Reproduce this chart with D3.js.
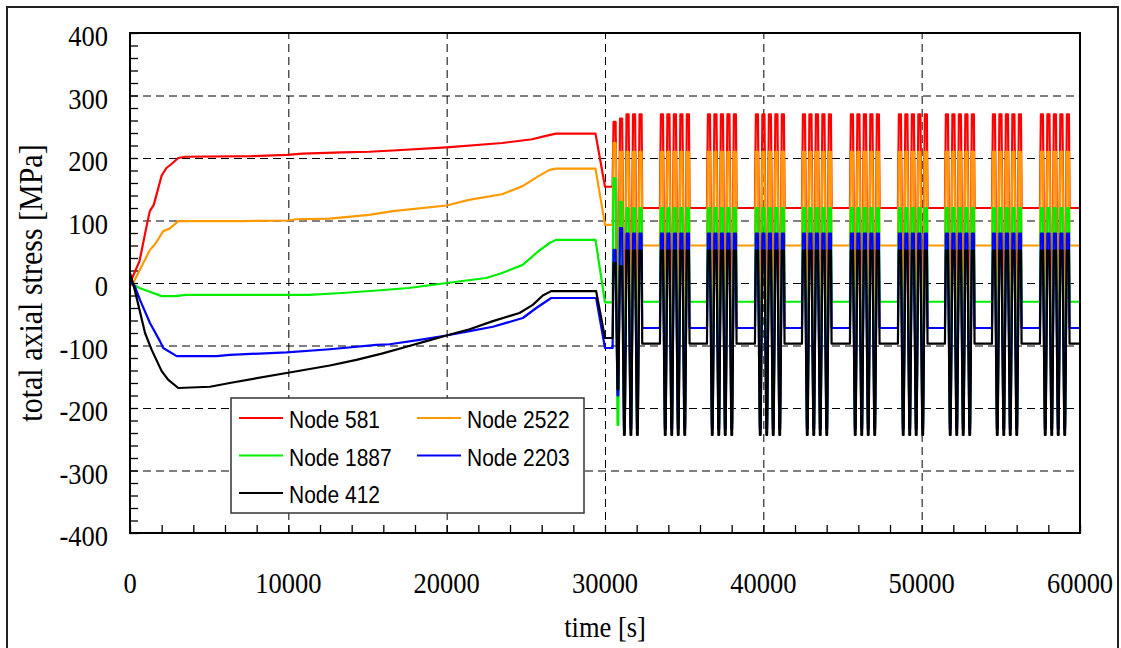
<!DOCTYPE html>
<html>
<head>
<meta charset="utf-8">
<script src="https://cdn.jsdelivr.net/npm/d3@7"></script>
<style>
  body { margin: 0; background: #fff; }
  svg { display: block; }
</style>
</head>
<body>
<div class="stress_graph"></div>
<script>
// total axial stress of five nodes over time

var nodeNames = ["Node 581", "Node 2522", "Node 1887", "Node 2203", "Node 412"];
var nodeColors = ["#ff0000", "#ff9900", "#00ee00", "#0000ff", "#000000"];

// first half: slow ramps [time s, stress MPa]
var ramp581 = [[0,0],[600,35],[1000,85],[1250,115],[1500,125],[2000,172],[2300,184],[2600,190],[3050,200],[3500,202],
  [7700,203],[9900,205],[10900,207],[13400,209],[15100,210],[16600,212],[20000,217],[23500,224],[25400,230],
  [26200,235],[26900,239],[29400,239],[30000,154]];
var ramp2522 = [[0,-5],[200,0],[700,25],[1260,53],[1580,62],[2100,83],[2500,87],[3050,99],[7100,99],[10000,100],
  [10500,102],[12600,103],[15100,109],[16600,115],[20000,124],[21400,133],[23500,142],[24800,155],[25800,171],
  [26500,181],[26900,183],[29400,183],[30000,93]];
var ramp1887 = [[0,0],[600,-8],[2000,-21],[2900,-21],[3500,-19],[11300,-19],[13400,-16],[15600,-12],[17600,-8],
  [20000,0],[22500,8],[23500,16],[24800,29],[25800,51],[26500,64],[26900,69],[29400,69],[30000,-31]];
var ramp2203 = [[0,2],[300,-5],[630,-27],[1260,-64],[1890,-93],[2100,-104],[2950,-117],[5470,-117],[6300,-115],
  [9890,-111],[12620,-106],[15560,-99],[16400,-98],[18290,-91],[19980,-84],[21450,-77],[22920,-70],[24810,-56],
  [25660,-40],[26600,-24],[29440,-24],[30000,-104]];
var ramp412 = [[0,16],[300,-11],[950,-80],[1370,-107],[2000,-141],[2420,-155],[3050,-168],[5050,-166],[6300,-160],
  [9890,-144],[12620,-132],[14300,-123],[15900,-113],[17460,-102],[18720,-93],[19980,-84],
  [21450,-74],[22920,-61],[24600,-48],[25440,-35],[26070,-20],[26600,-13],[29440,-13],[30000,-88]];
var ramps = [ramp581, ramp2522, ramp1887, ramp2203, ramp412];

// second half: load cycles, one group of five spikes every ~3000 s
var groupStarts = [30480, 33470, 36440, 39470, 42440, 45470, 48500, 51470, 54440, 57470];
var spikeOffsets = [60, 470, 880, 1290, 1700];
var groupEnd = 1870;
var cycleBase   = [120, 60, -30, -72, -97];
var cycleTop    = [270, 210, 120, 79, 52];
var cycleBottom = [-90, -140, -225, -233, -243];
// the first group starts a bit uneven
var firstGroupTops = [[258, 224, 168, 53, 32], [263, 210, 130, 88, 27]];
var firstGroupBottom = [-60, -110, -227, -180, -170];

var xMajor = [0, 10000, 20000, 30000, 40000, 50000, 60000];
var yMajor = [-400, -300, -200, -100, 0, 100, 200, 300, 400];

function buildSeries(i) {
  var pts = ramps[i].slice();
  var pre = ramps[i][ramps[i].length - 1][1];
  groupStarts.forEach(function(g, gi) {
    pts.push([g, gi === 0 ? pre : cycleBase[i]]);
    spikeOffsets.forEach(function(o, si) {
      var top = cycleTop[i], bot = cycleBottom[i];
      if (gi === 0 && si < firstGroupTops.length) top = firstGroupTops[si][i];
      if (gi === 0 && si === 0) bot = firstGroupBottom[i];
      pts.push([g + o, top], [g + o + 130, top]);
      if (si < spikeOffsets.length - 1) pts.push([g + o + 250, bot], [g + o + 300, bot]);
    });
    pts.push([g + groupEnd, cycleBase[i]]);
  });
  pts.push([60000, cycleBase[i]]);
  return pts;
}

var W = 1121, H = 648;
var margin = {top: 33, left: 130, right: 41, bottom: 115};
var width = W - margin.left - margin.right,
    height = H - margin.top - margin.bottom;

var svg = d3.select(".stress_graph").append("svg")
  .attr("width", W).attr("height", H);

// outer frame
svg.append("rect").attr("x", 7).attr("y", 7).attr("width", 1111).attr("height", 700)
  .attr("fill", "none").attr("stroke", "#222").attr("stroke-width", 2);

var g = svg.append("g").attr("transform", "translate(" + margin.left + "," + margin.top + ")");

var x = d3.scaleLinear().domain([0, 60000]).range([0, width]);
var y = d3.scaleLinear().domain([-400, 400]).range([height, 0]);

// dashed grid
g.append("g").attr("class", "grid")
  .call(d3.axisLeft(y).tickValues(yMajor).tickSize(-width).tickFormat(""))
  .call(function(s) { s.select(".domain").remove(); });
g.append("g").attr("class", "grid")
  .attr("transform", "translate(0," + height + ")")
  .call(d3.axisBottom(x).tickValues(xMajor).tickSize(-height).tickFormat(""))
  .call(function(s) { s.select(".domain").remove(); });
g.selectAll(".grid line").attr("stroke", "#000").attr("stroke-width", 1).attr("stroke-dasharray", "8,5");

// minor ticks inside
g.append("g").attr("class", "minor")
  .call(d3.axisLeft(y).tickValues(d3.range(-400, 401, 20)).tickSize(-8).tickFormat(""))
  .call(function(s) { s.select(".domain").remove(); });
g.append("g").attr("class", "minor")
  .attr("transform", "translate(0," + height + ")")
  .call(d3.axisBottom(x).tickValues(d3.range(0, 60001, 2000)).tickSize(-8).tickFormat(""))
  .call(function(s) { s.select(".domain").remove(); });
g.selectAll(".minor line").attr("stroke", "#000").attr("stroke-width", 1.3);

// data lines
var line = d3.line()
  .x(function(d) { return x(d[0]); })
  .y(function(d) { return y(d[1]); });

nodeNames.forEach(function(name, i) {
  g.append("path").datum(buildSeries(i))
    .attr("fill", "none")
    .attr("stroke", nodeColors[i])
    .attr("stroke-width", 2.2)
    .attr("stroke-linejoin", "round")
    .attr("d", line);
});

// plot border
g.append("rect").attr("width", width).attr("height", height)
  .attr("fill", "none").attr("stroke", "#000").attr("stroke-width", 2);

// tick labels
var serif = "'Liberation Serif', 'Times New Roman', serif";
g.selectAll(".ylab").data(yMajor).join("text")
  .attr("class", "ylab")
  .attr("transform", function(d) { return "translate(-22," + (y(d) + 13) + ") scale(1,1.13)"; })
  .attr("text-anchor", "end")
  .style("font-family", serif).style("font-size", "26.5px")
  .text(function(d) { return d; });
g.selectAll(".xlab").data(xMajor).join("text")
  .attr("class", "xlab")
  .attr("transform", function(d) { return "translate(" + x(d) + "," + (height + 60) + ") scale(1,1.13)"; })
  .attr("text-anchor", "middle")
  .style("font-family", serif).style("font-size", "26.5px")
  .text(function(d) { return d; });

// axis titles
svg.append("text")
  .attr("transform", "translate(" + (margin.left + width / 2) + ",637) scale(1,1.13)")
  .attr("text-anchor", "middle")
  .style("font-family", serif).style("font-size", "26.5px")
  .text("time [s]");
svg.append("text")
  .attr("transform", "translate(42," + (margin.top + height / 2) + ") rotate(-90) scale(1,1.15)")
  .attr("text-anchor", "middle")
  .style("font-family", serif).style("font-size", "30px")
  .text("total axial stress [MPa]");

// legend
var legend = svg.append("g").attr("transform", "translate(231,398)");
legend.append("rect").attr("width", 353).attr("height", 115)
  .attr("fill", "#fff").attr("stroke", "#333").attr("stroke-width", 1.5);
nodeNames.forEach(function(name, i) {
  var col = i % 2, row = Math.floor(i / 2);
  var item = legend.append("g").attr("transform", "translate(" + (8 + col * 178) + "," + (20 + row * 37.5) + ")");
  item.append("line").attr("x1", 0).attr("x2", 44)
    .attr("stroke", nodeColors[i]).attr("stroke-width", 2);
  item.append("text")
    .attr("transform", "translate(50,10) scale(1,1.1)")
    .style("font-family", "'Liberation Sans', Arial, sans-serif").style("font-size", "21px")
    .text(name);
});
</script>
</body>
</html>
